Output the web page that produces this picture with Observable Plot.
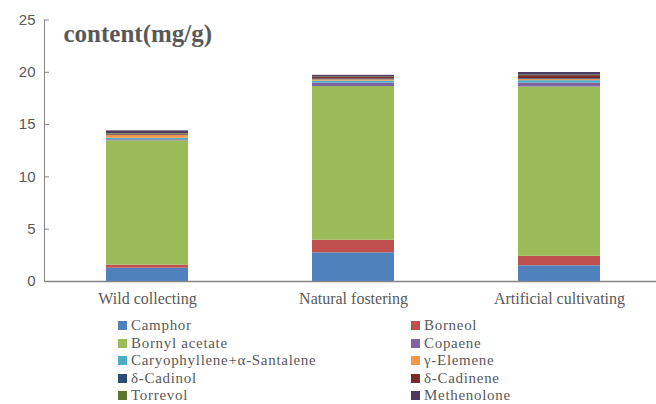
<!DOCTYPE html>
<html><head><meta charset="utf-8">
<script src="https://cdn.jsdelivr.net/npm/d3@7"></script>
<script src="https://cdn.jsdelivr.net/npm/@observablehq/plot@0.6"></script>
<style>
body{margin:0;background:#fff;}
#wrap{position:relative;width:656px;height:404px;overflow:hidden;}
.leg{position:absolute;font-family:"Liberation Serif","Times New Roman",serif;font-size:15px;letter-spacing:0.7px;color:#595959;line-height:14px;white-space:nowrap;}
.sw{display:inline-block;width:9px;height:9px;margin-right:4px;vertical-align:0px;}
</style></head>
<body><div id="wrap"></div>
<script>
const categories = ["Wild collecting", "Natural fostering", "Artificial cultivating"];
const compounds = ["Camphor", "Borneol", "Bornyl acetate", "Copaene", "Caryophyllene+α-Santalene", "γ-Elemene", "δ-Cadinol", "δ-Cadinene", "Torrevol", "Methenolone"];
const camphor = [1.27, 2.74, 1.5];
const borneol = [0.29, 1.2, 0.9];
const bornylAcetate = [11.89, 14.7, 16.2];
const copaene = [0.1, 0.32, 0.38];
const caryophyllene = [0.15, 0.2, 0.22];
const gammaElemene = [0.25, 0.12, 0.1];
const deltaCadinol = [0.05, 0.08, 0.08];
const deltaCadinene = [0.1, 0.15, 0.3];
const torrevol = [0.05, 0.05, 0.05];
const methenolone = [0.25, 0.15, 0.25];
const seriesValues = [camphor, borneol, bornylAcetate, copaene, caryophyllene, gammaElemene, deltaCadinol, deltaCadinene, torrevol, methenolone];
const colors = ["#4F81BD", "#C0504D", "#9BBB59", "#8064A2", "#4BACC6", "#F79646", "#2C4D75", "#772C2A", "#5F7530", "#4D3B62"];
const yTicks = [0, 5, 10, 15, 20, 25];
const titleText = "content(mg/g)";

const data = [];
compounds.forEach((c, i) => categories.forEach((cat, j) => data.push({compound: c, category: cat, value: seriesValues[i][j]})));

const serif = "Liberation Serif, Times New Roman, serif";
const chart = Plot.plot({
  width: 656, height: 310,
  marginLeft: 44, marginRight: 0, marginTop: 19.5, marginBottom: 29,
  style: {fontFamily: "Liberation Sans, Arial, sans-serif", color: "#595959", background: "#fff"},
  x: {domain: categories, range: [44, 663], paddingInner: 0.6, paddingOuter: 0.3, axis: null},
  y: {domain: [0, 25], axis: null},
  color: {domain: compounds, range: colors},
  marks: [
    Plot.barY(data, {x: "category", y: "value", fill: "compound", order: compounds}),
    Plot.ruleY([0], {stroke: "#868686", strokeWidth: 1.5}),
    Plot.axisY({ticks: yTicks, tickSize: -5, tickPadding: 14, stroke: "#868686", fill: "#595959", fontSize: 15, label: null, tickFormat: d => String(d)}),
    Plot.frame({anchor: "left", stroke: "#868686"}),
    Plot.axisX({domain: categories, tickSize: 0, tickPadding: 11, fontSize: 16, fontFamily: serif, fill: "#595959", label: null, ariaLabel: "xlabels"}),
    Plot.text([titleText], {frameAnchor: "top-left", dx: 19, dy: 4, text: d => d, fontSize: 25, fontWeight: "bold", fontFamily: serif, fill: "#595959", textAnchor: "start", ariaLabel: "charttitle"})
  ]
});
d3.select(chart).selectAll('g[aria-label="charttitle"] text').style("letter-spacing", "1.6px");
d3.select(chart).selectAll('g[aria-label="xlabels"] text').style("letter-spacing", "0.4px");
const wrap = document.getElementById("wrap");
wrap.appendChild(chart);
compounds.forEach((c, i) => {
  const d = document.createElement("div");
  d.className = "leg";
  const col = i % 2, row = Math.floor(i / 2);
  d.style.left = (col ? 411 : 118) + "px";
  d.style.top = (318 + row * 17.6) + "px";
  d.innerHTML = `<span class="sw" style="background:${colors[i]}"></span>${c}`;
  wrap.appendChild(d);
});
</script></body></html>
